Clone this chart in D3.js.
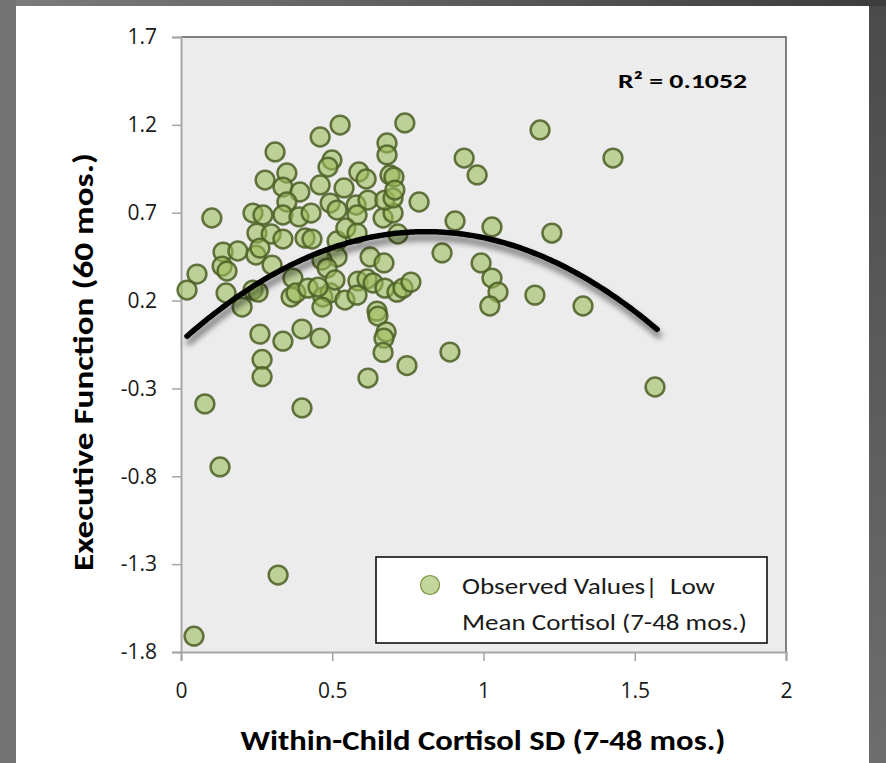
<!DOCTYPE html>
<html>
<head>
<meta charset="utf-8">
<script src="https://cdn.jsdelivr.net/npm/d3@7/dist/d3.min.js"></script>
<style>
  html, body { margin: 0; padding: 0; background: #5a5a5a; }
  svg { display: block; }
</style>
</head>
<body>
<svg id="chart" width="886" height="763"></svg>
<script>
// ---------------- data ----------------
const xValues = [0.526,0.740,0.460,0.311,0.681,0.681,0.499,0.486,0.936,1.187,1.428,0.979,
  0.278,0.350,0.337,0.393,0.350,0.460,0.539,0.588,0.612,0.691,0.704,0.787,
  0.102,0.238,0.271,0.337,0.390,0.430,0.493,0.516,0.579,0.618,0.582,0.668,0.701,0.674,0.701,0.707,
  0.906,1.028,1.226,0.251,0.298,0.337,0.410,0.433,0.516,0.545,0.582,0.717,
  0.139,0.188,0.248,0.261,0.863,0.625,0.671,0.516,0.466,0.992,
  0.136,0.152,0.053,0.020,0.149,0.202,0.238,0.255,0.301,0.370,0.364,0.380,0.420,0.483,
  0.469,0.493,0.509,0.542,0.585,0.615,0.635,0.582,0.674,0.714,0.734,0.760,
  1.028,1.048,1.021,1.170,1.329,0.453,0.466,0.648,0.651,0.400,0.261,0.337,0.460,
  0.678,0.671,0.668,0.268,0.268,0.747,0.618,0.889,
  0.079,0.129,0.043,0.321,0.400,1.567];
const yValues = [1.199,1.211,1.131,1.046,1.097,1.029,1.000,0.960,1.011,1.171,1.011,0.915,
  0.886,0.926,0.846,0.818,0.761,0.858,0.841,0.932,0.892,0.915,0.903,0.761,
  0.670,0.698,0.687,0.687,0.676,0.698,0.755,0.715,0.744,0.772,0.687,0.670,0.698,0.772,0.784,0.829,
  0.653,0.619,0.584,0.584,0.579,0.550,0.556,0.550,0.539,0.613,0.584,0.579,
  0.476,0.482,0.459,0.499,0.471,0.448,0.414,0.448,0.431,0.414,
  0.396,0.368,0.351,0.260,0.243,0.163,0.260,0.248,0.402,0.328,0.220,0.243,0.271,0.385,
  0.220,0.243,0.317,0.203,0.311,0.323,0.300,0.231,0.271,0.248,0.271,0.305,
  0.328,0.248,0.169,0.231,0.169,0.277,0.163,0.140,0.112,0.038,0.009,-0.031,-0.014,
  0.021,-0.014,-0.095,-0.135,-0.233,-0.170,-0.241,-0.093,
  -0.388,-0.747,-1.710,-1.362,-0.411,-0.292];
// quadratic trend: y = c0 + c1*x + c2*x^2
const trendCoefficients = [-0.033, 1.544, -0.953];
const trendRange = [0.02, 1.574];
const rSquaredLabel = "R² = 0.1052";
const xTicks = [0, 0.5, 1, 1.5, 2];
const yTicks = [-1.8, -1.3, -0.8, -0.3, 0.2, 0.7, 1.2, 1.7];
const xTitle = "Within-Child Cortisol SD (7-48 mos.)";
const yTitle = "Executive Function (60 mos.)";
const legendLines = ["Observed Values|  Low", "Mean Cortisol (7-48 mos.)"];

// ---------------- layout ----------------
const svg = d3.select("#chart");
const W = 886, H = 763;
const plot = {left: 181, right: 786, top: 37, bottom: 652};

const defs = svg.append("defs");
const bgGrad = defs.append("linearGradient").attr("id", "bg").attr("x1", "0").attr("y1", "0").attr("x2", "1").attr("y2", "0");
bgGrad.append("stop").attr("offset", "0").attr("stop-color", "#7c7c7c");
bgGrad.append("stop").attr("offset", "1").attr("stop-color", "#3c3c3c");
const sideGrad = defs.append("linearGradient").attr("id", "side").attr("x1", "0").attr("y1", "0").attr("x2", "0").attr("y2", "1");
sideGrad.append("stop").attr("offset", "0").attr("stop-color", "#4a4a4a");
sideGrad.append("stop").attr("offset", "1").attr("stop-color", "#6e6e6e");
const shadow = defs.append("filter").attr("id", "shadow").attr("x", "-10%").attr("y", "-50%").attr("width", "120%").attr("height", "200%");
shadow.append("feGaussianBlur").attr("in", "SourceAlpha").attr("stdDeviation", 3.2).attr("result", "b");
shadow.append("feOffset").attr("in", "b").attr("dx", 2).attr("dy", 6).attr("result", "o");
shadow.append("feComponentTransfer").attr("in", "o").attr("result", "s")
  .append("feFuncA").attr("type", "linear").attr("slope", 0.55);
const merge = shadow.append("feMerge");
merge.append("feMergeNode").attr("in", "s");
merge.append("feMergeNode").attr("in", "SourceGraphic");

// background frame
svg.append("rect").attr("width", W).attr("height", H).attr("fill", "url(#bg)");
svg.append("rect").attr("x", 0).attr("y", 0).attr("width", 16).attr("height", H).attr("fill", "#737373");
svg.append("rect").attr("x", 869).attr("y", 6).attr("width", 17).attr("height", H).attr("fill", "url(#side)");
svg.append("rect").attr("x", 16).attr("y", 6).attr("width", 853).attr("height", H - 6).attr("fill", "#ffffff");

const x = d3.scaleLinear().domain([0, 2]).range([plot.left, plot.right]);
const y = d3.scaleLinear().domain([-1.8, 1.7]).range([plot.bottom, plot.top]);

// plot area
svg.append("rect").attr("x", plot.left).attr("y", plot.top)
  .attr("width", plot.right - plot.left).attr("height", plot.bottom - plot.top)
  .attr("fill", "#ececec");
svg.append("path")
  .attr("d", `M${plot.left},${plot.top}H${plot.right}V${plot.bottom}`)
  .attr("fill", "none").attr("stroke", "#595959").attr("stroke-width", 1.5);

const tickFont = "'Open Sans', 'DejaVu Sans', sans-serif";
// y axis
const yAxis = svg.append("g").attr("transform", `translate(${plot.left},0)`)
  .call(d3.axisLeft(y).tickValues(yTicks).tickSize(9).tickPadding(15).tickFormat(d => d.toFixed(1)));
yAxis.select(".domain").attr("stroke", "#a6a6a6").attr("stroke-width", 2);
yAxis.selectAll(".tick line").attr("stroke", "#a6a6a6").attr("stroke-width", 1.5);
yAxis.selectAll(".tick text").attr("font-family", tickFont).attr("font-size", 21).attr("fill", "#1a1a1a");

// x axis
const xAxis = svg.append("g").attr("transform", `translate(0,${plot.bottom})`)
  .call(d3.axisBottom(x).tickValues(xTicks).tickSize(9).tickPadding(22).tickFormat(d => String(d)));
xAxis.select(".domain").attr("stroke", "#a6a6a6").attr("stroke-width", 2);
xAxis.selectAll(".tick line").attr("stroke", "#a6a6a6").attr("stroke-width", 1.5);
xAxis.selectAll(".tick text").attr("font-family", tickFont).attr("font-size", 21).attr("fill", "#1a1a1a");

// points
const points = xValues.map((v, i) => ({x: v, y: yValues[i]}));
svg.append("g").selectAll("circle").data(points).join("circle")
  .attr("cx", d => x(d.x)).attr("cy", d => y(d.y)).attr("r", 9.4)
  .attr("fill", "#9bbb59").attr("fill-opacity", 0.58)
  .attr("stroke", "#4f6228").attr("stroke-opacity", 0.88).attr("stroke-width", 2.5);

// trend line
const trendX = d3.range(trendRange[0], trendRange[1] + 1e-9, 0.01).concat([trendRange[1]]);
const trend = trendX.map(t => ({x: t, y: trendCoefficients[0] + trendCoefficients[1] * t + trendCoefficients[2] * t * t}));
svg.append("path").datum(trend)
  .attr("d", d3.line().x(d => x(d.x)).y(d => y(d.y)).curve(d3.curveBasis))
  .attr("fill", "none").attr("stroke", "#000").attr("stroke-width", 5.5)
  .attr("stroke-linecap", "round").attr("filter", "url(#shadow)");

const titleFont = "Carlito, Calibri, Lato, 'Open Sans', sans-serif";
function fit(sel, width) {
  sel.attr("textLength", width).attr("lengthAdjust", "spacingAndGlyphs");
}
// R^2
svg.append("text").attr("x", 618).attr("y", 88).attr("font-family", titleFont)
  .attr("font-weight", "bold").attr("font-size", 21).attr("fill", "#000")
  .text(rSquaredLabel).call(fit, 129);

// legend
const lg = svg.append("g");
lg.append("rect").attr("x", 376).attr("y", 557).attr("width", 391).attr("height", 86)
  .attr("fill", "#fff").attr("stroke", "#000").attr("stroke-width", 1.5);
lg.append("circle").attr("cx", 430).attr("cy", 585).attr("r", 9.5)
  .attr("fill", "#c3d69b").attr("stroke", "#77933c").attr("stroke-width", 1.2);
lg.append("text").attr("x", 462).attr("y", 594).attr("font-family", titleFont)
  .attr("font-size", 23).attr("fill", "#1a1a1a").attr("xml:space", "preserve")
  .text(legendLines[0]).call(fit, 253);
lg.append("text").attr("x", 462).attr("y", 630).attr("font-family", titleFont)
  .attr("font-size", 23).attr("fill", "#1a1a1a")
  .text(legendLines[1]).call(fit, 285);

// axis titles
svg.append("text").attr("x", 483).attr("y", 750).attr("text-anchor", "middle")
  .attr("font-family", titleFont).attr("font-weight", "bold").attr("font-size", 29)
  .attr("fill", "#000").text(xTitle).call(fit, 485);
svg.append("text").attr("transform", "translate(93,362) rotate(-90)").attr("text-anchor", "middle")
  .attr("font-family", titleFont).attr("font-weight", "bold").attr("font-size", 29)
  .attr("fill", "#000").text(yTitle).call(fit, 418);
</script>
</body>
</html>
